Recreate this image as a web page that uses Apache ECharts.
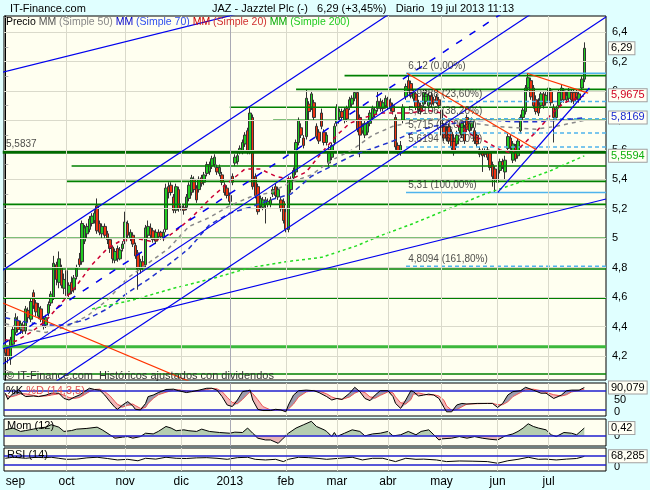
<!DOCTYPE html>
<html>
<head>
<meta charset="utf-8">
<script src="https://cdn.jsdelivr.net/npm/echarts@6/dist/echarts.min.js"></script>
<style>
html,body{margin:0;padding:0;background:#e0ffff;}
#chart{width:650px;height:490px;}
</style>
</head>
<body>
<div id="chart"></div>
<script>
// ---------------- DATA ----------------
const monthTicks = [[4,'sep'],[24,'oct'],[47,'nov'],[69,'dic'],[88,'2013'],[110,'feb'],[130,'mar'],[150,'abr'],[171,'may'],[193,'jun'],[213,'jul']];
const yearStartIdx = 88;
const priceTicks = [4.2,4.4,4.6,4.8,5.0,5.2,5.4,5.6,5.8,6.0,6.2,6.4];

const openP = [4.27,4.25,4.18,4.28,4.36,4.44,4.38,4.41,4.37,4.51,4.45,4.63,4.56,4.47,4.52,4.45,4.41,4.49,4.56,4.60,4.82,4.70,4.80,4.66,4.78,4.62,4.70,4.65,4.74,4.86,4.84,4.98,5.03,5.06,5.10,5.12,5.22,5.10,5.03,5.08,5.03,4.99,4.94,4.85,4.93,4.86,4.93,4.98,5.10,5.00,5.02,4.95,4.90,4.79,4.84,4.82,5.02,5.07,5.05,4.98,5.04,5.04,5.00,5.06,5.35,5.36,5.28,5.19,5.33,5.22,5.21,5.21,5.27,5.31,5.40,5.34,5.33,5.41,5.38,5.44,5.45,5.49,5.50,5.48,5.44,5.43,5.36,5.34,5.29,5.42,5.51,5.52,5.59,5.59,5.64,5.73,5.59,5.82,5.42,5.35,5.22,5.21,5.23,5.23,5.23,5.30,5.35,5.28,5.26,5.25,5.18,5.06,5.33,5.41,5.45,5.65,5.75,5.68,5.69,5.91,5.89,5.92,5.76,5.72,5.85,5.72,5.65,5.51,5.55,5.65,5.78,5.82,5.86,5.80,5.88,5.89,5.91,5.95,5.99,5.82,5.73,5.70,5.72,5.78,5.82,5.84,5.88,5.93,5.88,5.90,5.94,5.92,5.90,5.82,5.63,5.58,5.80,5.96,6.07,6.05,5.95,5.98,5.92,5.90,5.91,5.93,5.90,5.97,5.94,5.96,5.94,5.87,5.76,5.73,5.76,5.72,5.68,5.64,5.73,5.70,5.75,5.82,5.73,5.75,5.73,5.70,5.60,5.59,5.59,5.60,5.58,5.50,5.47,5.38,5.46,5.52,5.45,5.61,5.68,5.53,5.62,5.56,5.73,5.82,5.86,6.02,6.07,6.02,5.94,5.90,5.90,5.98,5.92,5.94,6.00,5.89,5.82,5.90,5.94,6.00,5.94,5.95,5.99,5.99,5.99,5.94,6.02,6.08];
const closeP = [4.22,4.20,4.31,4.38,4.46,4.38,4.42,4.37,4.52,4.46,4.57,4.54,4.50,4.53,4.45,4.40,4.46,4.55,4.62,4.83,4.72,4.86,4.68,4.72,4.61,4.68,4.64,4.73,4.80,4.82,5.10,5.07,5.08,5.13,5.15,5.17,5.05,5.04,5.08,5.02,4.99,4.93,4.86,4.91,4.86,4.92,4.96,5.11,5.02,5.04,4.96,4.88,4.79,4.84,4.80,5.07,5.08,5.02,4.99,5.04,5.01,5.01,5.04,5.34,5.31,5.31,5.19,5.35,5.20,5.19,5.19,5.28,5.36,5.41,5.33,5.26,5.40,5.37,5.43,5.50,5.50,5.54,5.55,5.45,5.48,5.38,5.31,5.29,5.25,5.38,5.55,5.56,5.61,5.65,5.70,5.59,5.85,5.35,5.29,5.18,5.27,5.26,5.26,5.25,5.26,5.33,5.29,5.33,5.20,5.12,5.06,5.40,5.40,5.46,5.65,5.80,5.70,5.63,5.95,5.86,5.98,5.82,5.69,5.66,5.76,5.65,5.70,5.60,5.63,5.76,5.89,5.86,5.82,5.87,5.81,5.94,5.95,5.99,5.74,5.70,5.76,5.78,5.78,5.85,5.88,5.87,5.93,5.88,5.92,5.95,5.89,5.88,5.86,5.62,5.59,5.63,5.89,6.03,6.01,5.97,5.99,5.89,5.87,5.86,5.99,5.98,5.97,5.91,5.92,5.93,5.90,5.70,5.68,5.68,5.66,5.62,5.58,5.70,5.76,5.78,5.66,5.74,5.78,5.80,5.66,5.64,5.57,5.56,5.57,5.55,5.48,5.42,5.40,5.46,5.52,5.49,5.53,5.69,5.62,5.64,5.54,5.66,5.82,5.87,6.02,6.09,5.96,5.90,5.86,5.85,5.98,5.90,5.97,6.02,5.92,5.82,5.88,5.99,6.02,5.94,5.97,6.00,5.94,5.93,5.96,5.98,6.08,6.29];
const lowP = [4.18,4.15,4.14,4.26,4.34,4.36,4.35,4.35,4.35,4.43,4.43,4.52,4.47,4.45,4.43,4.38,4.39,4.47,4.54,4.58,4.68,4.66,4.66,4.62,4.58,4.59,4.62,4.63,4.72,4.80,4.82,4.96,5.00,5.04,5.08,5.10,5.03,5.02,5.00,5.00,4.96,4.90,4.83,4.83,4.84,4.85,4.91,4.96,5.00,4.98,4.94,4.86,4.65,4.76,4.78,4.80,5.00,5.00,4.97,4.96,4.99,4.99,4.98,5.04,5.27,5.29,5.17,5.17,5.18,5.17,5.16,5.19,5.25,5.29,5.31,5.24,5.31,5.35,5.36,5.42,5.43,5.47,5.48,5.43,5.42,5.36,5.29,5.27,5.23,5.36,5.49,5.50,5.57,5.57,5.62,5.57,5.57,5.33,5.27,5.16,5.20,5.19,5.10,5.21,5.21,5.28,5.27,5.26,5.18,5.10,5.04,5.04,5.31,5.39,5.43,5.63,5.68,5.61,5.67,5.80,5.87,5.80,5.67,5.64,5.74,5.63,5.63,5.48,5.53,5.63,5.76,5.80,5.80,5.78,5.79,5.87,5.89,5.93,5.72,5.55,5.71,5.68,5.70,5.76,5.80,5.82,5.86,5.86,5.86,5.88,5.87,5.86,5.84,5.60,5.57,5.56,5.78,5.94,5.99,5.95,5.93,5.87,5.85,5.84,5.89,5.91,5.88,5.89,5.90,5.91,5.88,5.68,5.66,5.66,5.64,5.60,5.56,5.62,5.71,5.68,5.64,5.72,5.71,5.73,5.64,5.62,5.55,5.45,5.55,5.53,5.46,5.35,5.31,5.31,5.44,5.47,5.40,5.59,5.60,5.51,5.52,5.54,5.71,5.80,5.84,6.00,5.94,5.88,5.84,5.83,5.88,5.88,5.90,5.92,5.90,5.65,5.80,5.88,5.92,5.92,5.92,5.93,5.92,5.91,5.94,5.92,6.00,6.06];
const highP = [4.30,4.27,4.33,4.40,4.49,4.47,4.44,4.43,4.54,4.53,4.60,4.65,4.58,4.56,4.54,4.47,4.48,4.57,4.64,4.88,4.84,4.91,4.82,4.76,4.80,4.70,4.74,4.75,4.82,4.90,5.12,5.09,5.10,5.15,5.17,5.19,5.27,5.12,5.10,5.10,5.05,5.00,4.95,4.93,4.95,4.94,4.98,5.18,5.12,5.06,5.04,4.97,4.92,4.86,4.88,5.09,5.12,5.10,5.07,5.06,5.06,5.05,5.06,5.37,5.38,5.38,5.30,5.37,5.35,5.24,5.23,5.30,5.38,5.43,5.42,5.36,5.42,5.43,5.45,5.52,5.52,5.56,5.57,5.50,5.50,5.45,5.38,5.36,5.31,5.44,5.57,5.58,5.63,5.67,5.72,5.75,5.89,5.84,5.44,5.37,5.29,5.28,5.28,5.27,5.28,5.35,5.37,5.35,5.28,5.27,5.20,5.42,5.42,5.48,5.67,5.82,5.78,5.70,6.01,5.93,6.00,5.94,5.78,5.74,5.88,5.74,5.72,5.63,5.65,5.78,5.91,5.88,5.88,5.89,5.90,5.96,5.97,6.00,6.00,5.84,5.78,5.80,5.80,5.87,5.90,5.89,6.00,5.95,5.94,5.97,5.96,5.95,5.92,5.84,5.65,5.66,5.91,6.05,6.12,6.07,6.01,6.00,5.94,5.92,6.01,6.01,5.99,5.99,5.96,5.98,5.96,5.89,5.78,5.76,5.78,5.74,5.70,5.73,5.78,5.80,5.77,5.84,5.80,5.82,5.75,5.72,5.62,5.61,5.61,5.62,5.60,5.52,5.49,5.48,5.54,5.54,5.56,5.71,5.70,5.66,5.64,5.68,5.84,5.89,6.04,6.12,6.09,6.04,5.97,5.95,6.00,6.00,6.00,6.04,6.02,5.91,5.90,6.01,6.04,6.02,6.00,6.02,6.01,6.01,6.01,6.00,6.10,6.33];

// moving averages, read at sample days [dayIndex, value]
const sma20 = [[0,4.31],[4,4.30],[10,4.36],[16,4.44],[22,4.56],[28,4.68],[34,4.82],[40,4.93],[45,4.98],[51,5.00],[57,4.98],[63,5.00],[69,5.08],[73,5.14],[81,5.28],[89,5.40],[94,5.47],[100,5.47],[106,5.42],[112,5.40],[118,5.45],[124,5.58],[130,5.70],[135,5.78],[141,5.82],[147,5.85],[153,5.85],[159,5.85],[165,5.87],[171,5.85],[176,5.78],[183,5.70],[188,5.66],[194,5.60],[198,5.58],[202,5.62],[208,5.72],[214,5.84],[219,5.92],[227,5.9675]];
const sma50 = [[0,4.42],[8,4.38],[16,4.36],[24,4.40],[32,4.47],[40,4.58],[48,4.73],[56,4.83],[64,4.93],[72,5.08],[80,5.14],[88,5.22],[96,5.28],[104,5.31],[112,5.38],[120,5.43],[128,5.53],[136,5.60],[144,5.70],[152,5.76],[160,5.79],[168,5.81],[176,5.80],[184,5.78],[192,5.76],[200,5.75],[208,5.74],[216,5.76],[227,5.80]];
const sma70 = [[0,4.46],[8,4.43],[16,4.41],[24,4.41],[32,4.45],[40,4.52],[48,4.63],[56,4.72],[64,4.82],[72,4.93],[80,5.09],[88,5.17],[96,5.21],[104,5.26],[112,5.30],[120,5.42],[128,5.49],[136,5.56],[144,5.61],[152,5.66],[160,5.72],[168,5.76],[176,5.78],[184,5.80],[192,5.80],[200,5.79],[208,5.79],[216,5.80],[227,5.8169]];
const sma200 = [[34,4.52],[50,4.58],[66,4.66],[82,4.73],[96,4.80],[110,4.84],[124,4.87],[138,4.95],[146,5.01],[160,5.10],[174,5.20],[188,5.30],[200,5.37],[214,5.46],[227,5.5594]];

// support / resistance levels [startDay, price]
const greenLevels = [[133,6.104],[114,6.011],[88,5.889],[105,5.801],[26,5.490],[24,5.386],[-1,5.230],[-1,5.000],[-1,4.791],[-1,4.592],[-1,4.078]];
const mainLevel = 5.5837;
const lightLevel = 4.263;

// trend lines [[day, price],[day, price]]
const blueTrends = [[[-1,4.25],[235.5,5.266]],[[-1,6.128],[235.5,7.144]],[[-1,4.783],[235.5,7.498]],[[-1,4.145],[235.5,6.860]],[[-1,3.787],[235.5,6.502]],[[193,5.31],[229,6.02]]];
const blueDashTrends = [[[-1,4.280],[235.5,6.995]]];
const redTrends = [[[-1,4.56],[80,3.97]],[[157.5,6.12],[208.2,5.60]],[[204.5,6.12],[228.5,5.985]]];

// Fibonacci retracement
const fibStart = 157.1;
const fibValues = [6.12,5.9288,5.8106,5.715,5.6194,5.31,4.8094];
const fibPct = ['0,00%','23,60%','38,20%','50,00%','61,80%','100,00%','161,80%'];

// Stochastic %K %D (14,3,5)
const stochIdx = [0,1,2,4,6,8,11,13,16,18,21,23,25,27,29,31,33,35,37,39,41,43,44,46,48,50,51,53,55,56,58,60,63,66,68,71,73,76,79,81,83,85,87,89,91,93,95,96,97,99,101,104,106,108,110,111,113,115,118,121,123,126,128,130,132,135,137,139,141,143,145,147,150,152,153,155,157,159,160,162,164,166,168,170,172,173,175,177,179,181,185,189,191,193,195,197,199,202,204,207,210,212,215,218,220,222,225,227];
const stochK = [72,52,63,77,72,61,63,61,66,72,72,55,50,59,66,77,88,84,82,66,45,26,20,34,45,31,20,18,39,61,66,74,84,85,80,74,77,82,88,88,82,61,34,29,50,77,80,82,50,20,16,16,20,18,12,34,66,80,82,80,74,61,50,55,52,72,91,77,55,48,66,80,80,61,39,23,50,80,77,63,66,69,66,55,26,12,12,34,39,37,39,39,39,26,39,66,77,80,91,82,72,72,55,66,80,82,82,90.079];
const stochD = [68,64,60,64,70,70,65,62,63,66,70,66,58,55,58,67,77,84,85,77,64,45,36,27,33,37,32,23,26,39,55,67,75,82,83,79,77,78,84,87,86,77,59,42,38,52,69,77,71,51,29,18,17,18,17,21,37,60,76,81,79,70,60,54,52,60,72,80,74,60,56,65,76,73,60,41,37,51,69,73,69,66,67,63,49,31,17,19,28,37,38,39,39,35,35,44,61,74,83,85,80,75,67,63,67,76,81,85];

// Momentum (12)
const momentum = [[0,0.32],[3,0.42],[6,0.23],[8,0.28],[11,0.36],[13,0.42],[16,0.47],[18,0.61],[21,0.47],[23,0.23],[26,0.28],[28,0.36],[32,0.40],[36,0.47],[38,0.32],[41,0.04],[43,-0.15],[46,-0.09],[48,-0.06],[50,-0.15],[53,-0.06],[55,0.13],[58,0.09],[60,0.23],[63,0.51],[65,0.42],[67,0.27],[70,0.32],[72,0.27],[75,0.23],[77,0.36],[80,0.23],[84,0.17],[88,0.13],[90,0.19],[93,0.17],[95,0.42],[97,0.13],[99,-0.15],[102,-0.25],[104,-0.25],[107,-0.44],[109,-0.15],[111,0.13],[114,0.42],[117,0.61],[120,0.80],[122,0.51],[125,0.32],[126,0.23],[128,-0.06],[129,0.17],[130,-0.06],[133,0.13],[136,0.32],[139,0.23],[141,-0.02],[144,0.09],[147,0.13],[150,0.23],[152,-0.02],[155,0.04],[158,0.23],[161,0.04],[163,0.23],[166,0.32],[168,0.04],[170,-0.25],[171,-0.19],[175,-0.15],[178,-0.06],[181,-0.15],[184,-0.06],[187,-0.15],[190,-0.21],[193,-0.25],[196,-0.02],[199,0.09],[201,0.23],[203,0.42],[205,0.66],[207,0.51],[209,0.42],[212,0.32],[214,0.04],[216,-0.06],[219,0.17],[222,0.13],[224,0.04],[227,0.42]];

// RSI (14)
const rsi = [[0,59],[3,64],[8,59],[12,64],[15,62],[18,64],[21,59],[24,54],[28,55],[32,61],[36,64],[40,58],[44,51],[48,54],[52,47],[55,59],[59,55],[63,64],[67,59],[71,58],[75,61],[79,62],[83,59],[87,54],[91,62],[95,64],[98,54],[102,51],[106,54],[109,43],[111,54],[115,64],[119,62],[123,58],[126,54],[131,59],[136,64],[140,51],[144,59],[148,59],[153,43],[157,59],[161,54],[164,55],[169,51],[173,43],[178,46],[183,45],[189,43],[193,35],[197,47],[201,54],[205,64],[209,54],[212,55],[216,51],[220,55],[224,58],[227,68.285]];

// ---------------- CHART ----------------
const FONT = '"Liberation Sans", Arial, sans-serif';
const N = 236;
const cats = Array.from({length: N}, (_, i) => String(i));
const tickMap = {}; monthTicks.forEach(t => tickMap[t[0]] = t[1]);
const fmt = v => String(v).replace('.', ',');
const candle = openP.map((o, i) => [o, closeP[i], lowP[i], highP[i]]);
const minorTicks = []; for (let k = 41; k <= 65; k++) minorTicks.push(k / 10);

const GRID_BG = '#fffff0';
const GRIDLINE = '#dadacb';
const HIDDEN_LINE = {color: 'rgba(0,0,0,0)', width: 0};
const valueBox = (text, color) => ({
  show: true, position: 'end', distance: 3, formatter: text, color: color, opacity: 1,
  backgroundColor: '#fffff4', borderColor: '#a0a0a0', borderWidth: 1,
  padding: [1, 2, 0, 2], fontSize: 11, fontFamily: FONT
});
const monthLines = monthTicks.filter(t => t[0] !== 4).map(t => ({
  xAxis: cats[t[0]],
  lineStyle: {color: t[0] === yearStartIdx ? '#a9a9b4' : GRIDLINE, width: 1, type: 'solid'}
}));

const series = [];
function markerSeries(gi, z, lineStyle, data, label) {
  series.push({type: 'line', xAxisIndex: gi, yAxisIndex: gi, data: [], z: z, silent: true,
    markLine: {silent: true, symbol: 'none', animation: false, label: label || {show: false},
      lineStyle: lineStyle, data: data}});
}
// main panel gridlines
markerSeries(0, 1, {color: GRIDLINE, width: 1, type: 'solid'}, priceTicks.map(v => ({yAxis: v})).concat(monthLines));

function seg(pts, color, width, type, z) {
  series.push({type: 'line', xAxisIndex: 4, yAxisIndex: 0, data: pts, symbol: 'none', silent: true,
    clip: true, animation: false, z: z || 3, lineStyle: {color: color, width: width, type: type || 'solid'}});
}
// candles
series.push({type: 'candlestick', xAxisIndex: 0, yAxisIndex: 0, data: candle, barWidth: 3, z: 2, silent: true,
  itemStyle: {color: '#22cc22', color0: '#ee3311', borderColor: '#333', borderColor0: '#333', borderWidth: 1}});

// green levels
greenLevels.forEach(l => seg([[l[0], l[1]], [235.5, l[1]]], '#008000', 1.6, 'solid', 4));
seg([[-1, mainLevel], [235.5, mainLevel]], '#006a00', 3, 'solid', 4);
seg([[-1, lightLevel], [235.5, lightLevel]], '#3cb83c', 3, 'solid', 4);
// fib lines
fibValues.forEach((v, i) => {
  const solid = (i === 0 || i === 5);
  seg([[fibStart, v], [235.5, v]], '#4fb4ec', 1.5, solid ? 'solid' : [4, 3], 4);
});
// trends
blueTrends.forEach(t => seg(t, '#0000ee', 1.2, 'solid', 5));
blueDashTrends.forEach(t => seg(t, '#0000ee', 1.5, [7, 9], 5));
redTrends.forEach(t => seg(t, '#ff3300', 1.2, 'solid', 5));

// moving averages
function ma(data, color, dash) {
  series.push({type: 'line', xAxisIndex: 0, yAxisIndex: 0, data: data, symbol: 'none', silent: true,
    animation: false, z: 4, lineStyle: {color: color, width: 1.5, type: dash}});
}
ma(sma50, '#8a8a8a', [4, 4]);
ma(sma70, '#2233cc', [5, 4]);
ma(sma20, '#cc0033', [4, 4]);
ma(sma200, '#22dd22', [3, 3]);

// right-hand value boxes (last values)
const lastClose = closeP[closeP.length - 1];
markerSeries(0, 8, HIDDEN_LINE, [
  {yAxis: lastClose, label: valueBox(fmt(lastClose), '#000')},
  {yAxis: sma20[sma20.length - 1][1], label: valueBox(fmt(sma20[sma20.length - 1][1]), '#d00020')},
  {yAxis: sma70[sma70.length - 1][1], label: valueBox(fmt(sma70[sma70.length - 1][1]), '#1a2ad0')},
  {yAxis: sma200[sma200.length - 1][1], label: valueBox(fmt(sma200[sma200.length - 1][1]), '#10b010')}
], {show: true});

// text labels for fib + level
const labelPts = fibValues.map((v, i) => ({value: [fibStart + 0.3, v], label: {formatter: fmt(v) + ' (' + fibPct[i] + ')'}}));
labelPts.push({value: [-0.3, mainLevel], label: {formatter: fmt(mainLevel)}});
series.push({type: 'scatter', xAxisIndex: 4, yAxisIndex: 0, data: labelPts, symbolSize: 1, silent: true, z: 6,
  itemStyle: {color: 'rgba(0,0,0,0)'},
  label: {show: true, position: [2, -12], color: '#222', fontSize: 10, fontFamily: FONT}});

// ---- indicator panels ----
function panelGrid(gi, levels) {
  markerSeries(gi, 1, {color: GRIDLINE, width: 1, type: 'solid'}, monthLines);
  markerSeries(gi, 3, {color: '#1f1fcf', width: 1.5, type: 'solid'}, levels.map(v => ({yAxis: v})));
}
// stochastic
panelGrid(1, [80, 20]);
const base = stochIdx.map((d, i) => [d, Math.min(stochK[i], stochD[i])]);
const upPart = stochIdx.map((d, i) => [d, Math.max(stochK[i] - stochD[i], 0)]);
const dnPart = stochIdx.map((d, i) => [d, Math.max(stochD[i] - stochK[i], 0)]);
[[base, 'rgba(0,0,0,0)'], [upPart, '#9c9cac'], [dnPart, '#f2b6b6']].forEach(p => {
  series.push({type: 'line', xAxisIndex: 1, yAxisIndex: 1, data: p[0], stack: 'st', symbol: 'none', silent: true,
    animation: false, z: 2, lineStyle: {width: 0}, areaStyle: {color: p[1], opacity: 1}});
});
series.push({type: 'line', xAxisIndex: 1, yAxisIndex: 1, data: stochIdx.map((d, i) => [d, stochD[i]]), symbol: 'none',
  silent: true, animation: false, z: 4, lineStyle: {color: '#ee5555', width: 1}});
series.push({type: 'line', xAxisIndex: 1, yAxisIndex: 1, data: stochIdx.map((d, i) => [d, stochK[i]]), symbol: 'none',
  silent: true, animation: false, z: 5, lineStyle: {color: '#000', width: 1}});
markerSeries(1, 8, HIDDEN_LINE, [{yAxis: stochK[stochK.length - 1], label: valueBox(fmt(stochK[stochK.length - 1]), '#000')}], {show: true});

// momentum
panelGrid(2, [0]);
const momPos = momentum.map(p => [p[0], Math.max(p[1], 0)]);
const momNeg = momentum.map(p => [p[0], Math.min(p[1], 0)]);
series.push({type: 'line', xAxisIndex: 2, yAxisIndex: 2, data: momPos, symbol: 'none', silent: true,
  animation: false, z: 2, lineStyle: {width: 0}, areaStyle: {color: '#b5cdb0', opacity: 1, origin: 0}});
series.push({type: 'line', xAxisIndex: 2, yAxisIndex: 2, data: momNeg, symbol: 'none', silent: true,
  animation: false, z: 2, lineStyle: {width: 0}, areaStyle: {color: '#e9b4b4', opacity: 1, origin: 0}});
series.push({type: 'line', xAxisIndex: 2, yAxisIndex: 2, data: momentum, symbol: 'none', silent: true,
  animation: false, z: 4, lineStyle: {color: '#000', width: 1}});
markerSeries(2, 8, HIDDEN_LINE, [{yAxis: momentum[momentum.length - 1][1], label: valueBox(fmt(momentum[momentum.length - 1][1]), '#000')}], {show: true});

// rsi
panelGrid(3, [70, 30]);
series.push({type: 'line', xAxisIndex: 3, yAxisIndex: 3, data: rsi, symbol: 'none', silent: true,
  animation: false, z: 4, lineStyle: {color: '#000', width: 1}});
markerSeries(3, 8, HIDDEN_LINE, [{yAxis: rsi[rsi.length - 1][1], label: valueBox(fmt(rsi[rsi.length - 1][1]), '#000')}], {show: true});

const gridBase = {left: 4, right: 44, show: true, backgroundColor: GRID_BG, borderColor: '#000', borderWidth: 1};
const catAxis = (gi, showLabels) => ({
  gridIndex: gi, type: 'category', data: cats, boundaryGap: true,
  axisLine: {show: false}, axisTick: {show: false}, splitLine: {show: false},
  axisLabel: showLabels ? {
    show: true, interval: (idx) => tickMap[idx] !== undefined,
    formatter: (val, idx) => tickMap[idx] || '', color: '#000', fontSize: 12, fontFamily: FONT, margin: 5
  } : {show: false}
});
const smallAxis = (gi, min, max, vals, shiftUp) => ({
  gridIndex: gi, type: 'value', position: 'right', min: min, max: max,
  axisLine: {show: false}, axisTick: {show: false}, splitLine: {show: false},
  axisLabel: {customValues: vals, color: '#000', fontSize: 11, fontFamily: FONT, margin: 8,
    formatter: v => (v === 0 && shiftUp) ? '{a|0}' : fmt(v),
    rich: {a: {fontSize: 11, fontFamily: FONT, color: '#000', padding: [0, 0, 8, 0]}}}
});
const T = (text, left, top, size, color, rich) => ({
  text: text, left: left, top: top, padding: 0, itemGap: 0,
  textStyle: {fontSize: size, fontWeight: 'normal', color: color, fontFamily: FONT, rich: rich}
});
const R = (c, s) => ({color: c, fontSize: s, fontWeight: 'normal', fontFamily: FONT});

const option = {
  backgroundColor: '#e0ffff',
  animation: false,
  textStyle: {fontFamily: FONT},
  title: [
    T('IT-Finance.com', 10, 3, 11, '#000'),
    T('JAZ - Jazztel Plc (-)   6,29 (+3,45%)   Diario  19 jul 2013 11:13', 212, 3, 11, '#000'),
    T('{k|Precio} {g1|MM} {g2|(Simple 50)} {b1|MM} {b2|(Simple 70)} {r1|MM} {r2|(Simple 20)} {n1|MM} {n2|(Simple 200)}',
      6, 17, 10.5, '#000', {k: R('#000', 10.5), g1: R('#555', 10.5), g2: R('#888', 10.5), b1: R('#0000cc', 10.5),
        b2: R('#3050ee', 10.5), r1: R('#cc0000', 10.5), r2: R('#d03030', 10.5), n1: R('#00aa00', 10.5), n2: R('#22cc22', 10.5)}),
    T('© IT-Finance.com  Históricos ajustados con dividendos', 6, 370, 11, '#333'),
    T('{k|%K} {d|%D (14,3,5)}', 6, 385, 11, '#000', {k: R('#000', 11), d: R('#e05050', 11)}),
    T('Mom (12)', 7, 420, 11, '#000'),
    T('RSI (14)', 7, 449, 11, '#000')
  ],
  grid: [
    Object.assign({top: 16, height: 364}, gridBase),
    Object.assign({top: 383, height: 33}, gridBase),
    Object.assign({top: 419, height: 27}, gridBase),
    Object.assign({top: 448, height: 23}, gridBase)
  ],
  xAxis: [catAxis(0, false), catAxis(1, false), catAxis(2, false), catAxis(3, true),
    {gridIndex: 0, type: 'value', min: -0.5, max: 235.5, show: false}],
  yAxis: [
    {gridIndex: 0, type: 'value', position: 'right', min: 4.037, max: 6.509,
      axisLine: {show: true, lineStyle: {color: '#000'}},
      axisTick: {show: true, customValues: minorTicks, length: 3, lineStyle: {color: '#b0b0b0'}},
      axisLabel: {customValues: priceTicks, formatter: v => fmt(Math.round(v * 10) / 10), color: '#000',
        fontSize: 11, fontFamily: FONT, margin: 6},
      splitLine: {show: false}},
    smallAxis(1, -1.6, 104.9, [0, 50], true),
    smallAxis(2, -0.59, 0.93, [0], false),
    smallAxis(3, -2.4, 108.7, [0], true)
  ],
  series: series
};
const chart = echarts.init(document.getElementById('chart'));
chart.setOption(option);
</script>
</body>
</html>
